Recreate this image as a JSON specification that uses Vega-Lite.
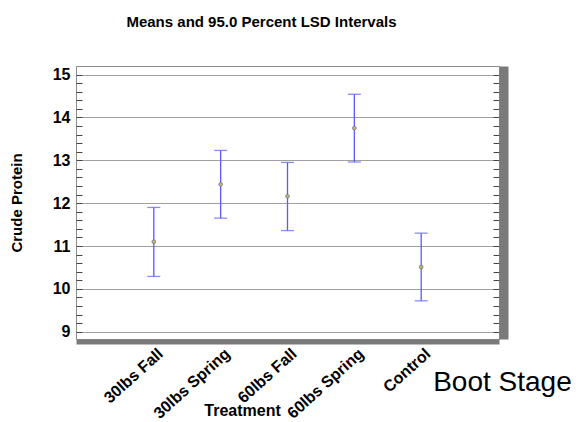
{
  "$schema": "https://vega.github.io/schema/vega-lite/v6.json",
  "autosize": {"type": "none"},
  "width": 423,
  "height": 273,
  "padding": {"left": 76, "top": 66, "right": 77, "bottom": 83},
  "background": "white",
  "title": {
    "text": "Means and 95.0 Percent LSD Intervals",
    "font": "Liberation Sans",
    "fontSize": 15,
    "fontWeight": "bold",
    "color": "#000",
    "anchor": "middle",
    "frame": "group",
    "baseline": "alphabetic",
    "offset": 24,
    "dx": -26
  },
  "config": {
    "view": {"stroke": "#8a8a8a", "strokeWidth": 1},
    "axis": {"labelFont": "Liberation Sans", "titleFont": "Liberation Sans"}
  },
  "data": {
    "values": [
      {"treatment": "30lbs Fall", "mean": 11.10, "lower": 10.29, "upper": 11.90},
      {"treatment": "30lbs Spring", "mean": 12.44, "lower": 11.65, "upper": 13.23},
      {"treatment": "60lbs Fall", "mean": 12.16, "lower": 11.36, "upper": 12.95},
      {"treatment": "60lbs Spring", "mean": 13.75, "lower": 12.96, "upper": 14.54},
      {"treatment": "Control", "mean": 10.51, "lower": 9.72, "upper": 11.30}
    ]
  },
  "layer": [
    {
      "mark": {"type": "rule", "color": "#5a5aff", "strokeWidth": 1.3},
      "encoding": {
        "x": {
          "field": "treatment", "type": "nominal",
          "scale": {"type": "band", "paddingInner": 0, "paddingOuter": 0.664},
          "axis": {
            "orient": "bottom",
            "title": "Treatment",
            "titleFontSize": 16, "titleFontWeight": "bold", "titleColor": "#000",
            "titleX": 166, "titleY": 76, "titleAlign": "center", "titleBaseline": "alphabetic",
            "labelAngle": -42, "labelAlign": "right", "labelBaseline": "middle",
            "labelFontSize": 16, "labelFontWeight": "bold", "labelColor": "#000",
            "labelOffset": 7, "labelPadding": 12,
            "ticks": false, "domain": false, "grid": false
          }
        },
        "y": {
          "field": "lower", "type": "quantitative",
          "scale": {"domain": [8.83, 15.2], "nice": false, "zero": false},
          "axis": {
            "orient": "left",
            "title": "Crude Protein",
            "titleFontSize": 15, "titleFontWeight": "bold", "titleColor": "#000",
            "titlePadding": 28,
            "values": [9, 9.2, 9.4, 9.6, 9.8, 10, 10.2, 10.4, 10.6, 10.8, 11, 11.2, 11.4, 11.6, 11.8, 12, 12.2, 12.4, 12.6, 12.8, 13, 13.2, 13.4, 13.6, 13.8, 14, 14.2, 14.4, 14.6, 14.8, 15],
            "labelExpr": "abs(datum.value - round(datum.value)) < 0.001 ? format(datum.value, 'd') : ''",
            "labelFontSize": 16, "labelFontWeight": "bold", "labelColor": "#000",
            "labelPadding": 6,
            "offset": -6, "tickSize": 6, "tickColor": "#444", "tickWidth": 1,
            "domain": false,
            "grid": true, "gridColor": "#a0a0a0", "gridWidth": 1.2,
            "gridOpacity": {"condition": {"test": "abs(datum.value - round(datum.value)) < 0.001", "value": 1}, "value": 0}
          }
        },
        "y2": {"field": "upper"}
      }
    },
    {
      "mark": {"type": "tick", "color": "#5a5aff", "thickness": 1.3, "size": 13},
      "encoding": {
        "x": {"field": "treatment", "type": "nominal", "axis": null},
        "y": {
          "field": "lower", "type": "quantitative",
          "axis": {
            "orient": "right", "title": null, "labels": false, "grid": false, "domain": false,
            "values": [9, 9.2, 9.4, 9.6, 9.8, 10, 10.2, 10.4, 10.6, 10.8, 11, 11.2, 11.4, 11.6, 11.8, 12, 12.2, 12.4, 12.6, 12.8, 13, 13.2, 13.4, 13.6, 13.8, 14, 14.2, 14.4, 14.6, 14.8, 15],
            "offset": -6, "tickSize": 6, "tickColor": "#444", "tickWidth": 1
          }
        }
      }
    },
    {
      "mark": {"type": "tick", "color": "#5a5aff", "thickness": 1.3, "size": 13},
      "encoding": {
        "x": {
          "field": "treatment", "type": "nominal",
          "axis": {"orient": "bottom", "title": null, "labels": false, "ticks": false, "grid": false,
                   "domain": true, "domainColor": "#7a7a7a", "domainWidth": 5, "offset": 2.5}
        },
        "y": {
          "field": "upper", "type": "quantitative",
          "axis": {"orient": "right", "title": null, "labels": false, "ticks": false, "grid": false,
                   "domain": true, "domainColor": "#7a7a7a", "domainWidth": 9, "offset": 4.5}
        }
      }
    },
    {
      "mark": {"type": "point", "filled": true, "fill": "#c2b96c", "stroke": "#777", "strokeWidth": 0.8, "size": 14, "opacity": 1},
      "encoding": {
        "x": {"field": "treatment", "type": "nominal", "axis": null},
        "y": {"field": "mean", "type": "quantitative", "axis": null}
      }
    },
    {
      "data": {"values": [{"label": "Boot Stage"}]},
      "mark": {"type": "text", "font": "Liberation Sans", "fontSize": 28, "align": "left", "baseline": "alphabetic", "dx": 12, "color": "#000"},
      "encoding": {
        "x": {"datum": "Control", "type": "nominal", "axis": null},
        "y": {"datum": 7.615, "type": "quantitative", "axis": null},
        "text": {"field": "label"}
      }
    }
  ],
  "resolve": {"axis": {"x": "independent", "y": "independent"}}
}
